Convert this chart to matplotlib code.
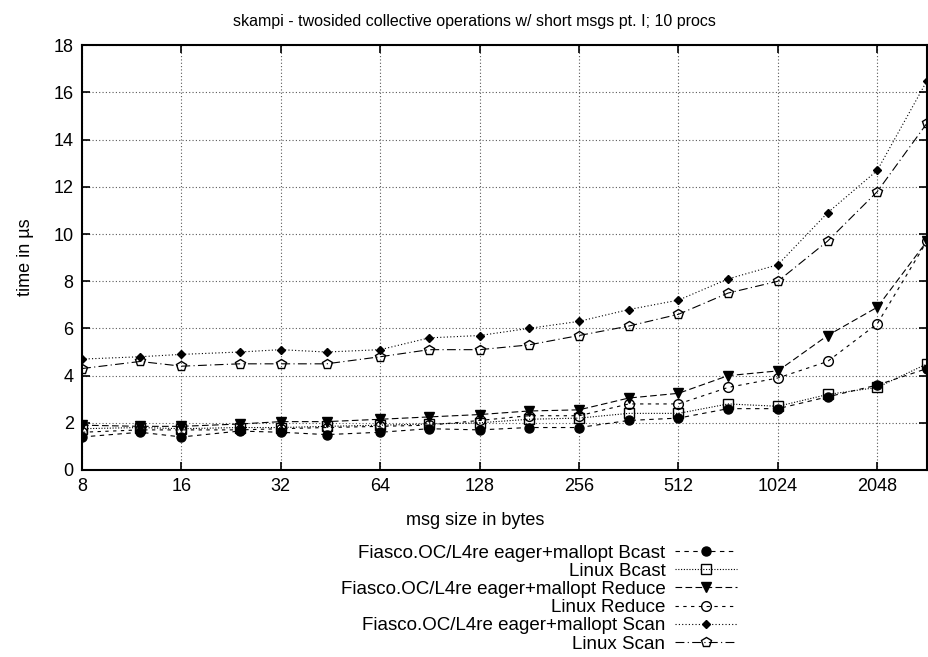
import matplotlib
matplotlib.use("Agg")
import matplotlib.pyplot as plt
from matplotlib.ticker import FixedLocator, FixedFormatter, NullLocator

plt.rcParams['font.family'] = ['Liberation Sans', 'DejaVu Sans']
plt.rcParams['font.size'] = 13

# message sizes in bytes
msg_size = [8, 12, 16, 24, 32, 44, 64, 90, 128, 180, 256, 362, 512, 724, 1024, 1448, 2048, 2896]

# times in microseconds
fiasco_bcast = [1.4, 1.6, 1.4, 1.65, 1.6, 1.5, 1.6, 1.75, 1.7, 1.8, 1.8, 2.1, 2.2, 2.6, 2.6, 3.1, 3.6, 4.3]
linux_bcast = [1.75, 1.8, 1.75, 1.8, 1.8, 1.85, 1.9, 1.95, 2.0, 2.15, 2.2, 2.4, 2.4, 2.8, 2.7, 3.2, 3.5, 4.5]
fiasco_reduce = [1.9, 1.85, 1.85, 1.95, 2.05, 2.05, 2.15, 2.25, 2.35, 2.5, 2.55, 3.05, 3.25, 4.0, 4.2, 5.7, 6.9, 9.7]
linux_reduce = [1.6, 1.7, 1.7, 1.7, 1.75, 1.8, 1.85, 1.9, 2.1, 2.3, 2.3, 2.8, 2.8, 3.5, 3.9, 4.6, 6.2, 9.7]
fiasco_scan = [4.7, 4.8, 4.9, 5.0, 5.1, 5.0, 5.1, 5.6, 5.7, 6.0, 6.3, 6.8, 7.2, 8.1, 8.7, 10.9, 12.7, 16.5]
linux_scan = [4.3, 4.6, 4.4, 4.5, 4.5, 4.5, 4.8, 5.1, 5.1, 5.3, 5.7, 6.1, 6.6, 7.5, 8.0, 9.7, 11.8, 14.7]

x_ticks = [8, 16, 32, 64, 128, 256, 512, 1024, 2048]
y_ticks = list(range(0, 19, 2))

series = [
    ('Fiasco.OC/L4re eager+mallopt Bcast', fiasco_bcast, (0, (4, 4)), 'o', 'k', 6.5),
    ('Linux Bcast', linux_bcast, (0, (1, 1.5)), 's', 'none', 7),
    ('Fiasco.OC/L4re eager+mallopt Reduce', fiasco_reduce, (0, (6, 3)), 'v', 'k', 6.5),
    ('Linux Reduce', linux_reduce, (0, (3, 4)), 'o', 'none', 7),
    ('Fiasco.OC/L4re eager+mallopt Scan', fiasco_scan, (0, (1, 2)), 'D', 'k', 4.5),
    ('Linux Scan', linux_scan, (0, (8, 3, 1, 3)), 'p', 'none', 7),
]

fig = plt.figure(figsize=(9.29, 6.57), dpi=100)
ax = fig.add_axes([82 / 929, 1 - 470 / 657, 845 / 929, (470 - 45.3) / 657])

for name, vals, ls, mk, fc, ms in series:
    ax.plot(msg_size, vals, color='k', lw=0.8, linestyle=ls, marker=mk,
            markerfacecolor=fc, markeredgecolor='k', markeredgewidth=1.0,
            markersize=ms, label=name)

ax.set_xscale('log', base=2)
ax.set_xlim(8, 2896)
ax.set_ylim(0, 18)
ax.xaxis.set_major_locator(FixedLocator(x_ticks))
ax.xaxis.set_major_formatter(FixedFormatter([str(t) for t in x_ticks]))
ax.xaxis.set_minor_locator(NullLocator())
ax.set_yticks(y_ticks)

ax.grid(True, color='0.35', linestyle=(0, (1, 2)), linewidth=0.8)
ax.tick_params(direction='in', length=6, width=1.2, top=True, right=True, pad=6)
for sp in ax.spines.values():
    sp.set_linewidth(1.5)

ax.set_title('skampi - twosided collective operations w/ short msgs pt. I; 10 procs',
             x=0.465, pad=14, fontsize=11.5)
ax.set_xlabel('msg size in bytes', x=0.465, labelpad=12)
ax.set_ylabel('time in µs', labelpad=14)

leg = ax.legend(loc='upper right', bbox_to_anchor=(746 / 929, 1 - 535 / 657),
                bbox_transform=fig.transFigure, frameon=False, markerfirst=False,
                handlelength=3.3, handletextpad=0.5, labelspacing=0.06,
                borderpad=0, fontsize=13.5)
# right-align the legend rows so the text ends next to the samples
vp = leg._legend_box._children[-1]._children[0]
vp.align = 'right'

fig.savefig('out.png', dpi=100)
